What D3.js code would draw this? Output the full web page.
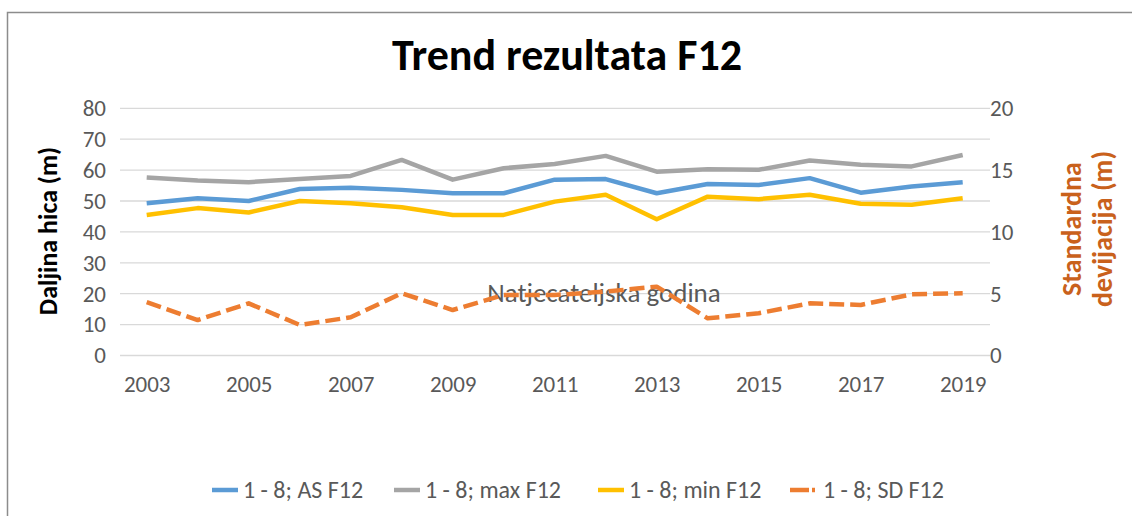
<!DOCTYPE html>
<html>
<head>
<meta charset="utf-8">
<script src="https://cdn.jsdelivr.net/npm/d3@7"></script>
<style>
  html, body { margin: 0; padding: 0; background: #fff; }
  svg { display: block; font-family: Calibri, Carlito, Lato, sans-serif; }
</style>
</head>
<body>
<svg id="chart" width="1132" height="516"></svg>
<script>
// Competition years
const years = [2003, 2004, 2005, 2006, 2007, 2008, 2009, 2010, 2011,
               2012, 2013, 2014, 2015, 2016, 2017, 2018, 2019];

// Throw distance (m), places 1-8
const asF12  = [49.3, 50.9, 50.0, 53.9, 54.3, 53.6, 52.5, 52.5, 56.9,
                57.1, 52.5, 55.5, 55.2, 57.4, 52.7, 54.7, 56.1];
const maxF12 = [57.6, 56.6, 56.1, 57.1, 58.1, 63.3, 56.9, 60.6, 62.0,
                64.6, 59.5, 60.3, 60.1, 63.1, 61.7, 61.2, 64.9];
const minF12 = [45.5, 47.7, 46.3, 50.0, 49.3, 48.0, 45.5, 45.5, 49.8,
                52.0, 44.1, 51.4, 50.6, 52.0, 49.1, 48.8, 50.9];
// Standard deviation (m), right axis
const sdF12  = [4.31, 2.87, 4.22, 2.47, 3.09, 5.04, 3.68, 4.90, 4.90,
                5.17, 5.57, 3.01, 3.42, 4.22, 4.09, 4.95, 5.04];

const leftTicks  = [0, 10, 20, 30, 40, 50, 60, 70, 80];
const rightTicks = [0, 5, 10, 15, 20];
const xTickYears = [2003, 2005, 2007, 2009, 2011, 2013, 2015, 2017, 2019];

const seriesNames = ["1 - 8; AS F12", "1 - 8; max F12", "1 - 8; min F12", "1 - 8; SD F12"];

const C = { blue: "#5B9BD5", grey: "#A5A5A5", yellow: "#FFC000", orange: "#ED7D31",
            text: "#595959", grid: "#D9D9D9", axisTitle2: "#C9611C" };

const svg = d3.select("#chart");

// Outer frame (top and left edges)
svg.append("path")
  .attr("d", "M7.5,516 V12.5 H1132")
  .attr("fill", "none").attr("stroke", "#8C8C8C").attr("stroke-width", 1.5);

const plot = { left: 120, right: 990, top: 108.3, bottom: 355.5 };
const x = d3.scaleLinear().domain([2003, 2019]).range([146.7, 962.7]);
const yL = d3.scaleLinear().domain([0, 80]).range([plot.bottom, plot.top]);
const yR = d3.scaleLinear().domain([0, 20]).range([plot.bottom, plot.top]);

// Horizontal gridlines
svg.append("g").selectAll("line").data(leftTicks).join("line")
  .attr("x1", plot.left).attr("x2", plot.right)
  .attr("y1", d => yL(d)).attr("y2", d => yL(d))
  .attr("stroke", C.grid).attr("stroke-width", 1.3);

// Axis helper: strip the domain line and let labels inherit the page font
function styleAxis(g) {
  g.attr("font-family", null).attr("font-size", null);
  g.select(".domain").remove();
  g.selectAll("text").attr("fill", C.text).style("font-size", "23px");
}

// Left axis
svg.append("g").attr("transform", `translate(${plot.left - 14},0)`)
  .call(d3.axisLeft(yL).tickValues(leftTicks).tickSize(0).tickPadding(0))
  .call(styleAxis);

// Right axis
svg.append("g").attr("transform", `translate(${plot.right},0)`)
  .call(d3.axisRight(yR).tickValues(rightTicks).tickSize(0).tickPadding(0))
  .call(styleAxis);

// Bottom axis
svg.append("g").attr("transform", `translate(0,${plot.bottom + 20})`)
  .call(d3.axisBottom(x).tickValues(xTickYears).tickFormat(d3.format("d")).tickSize(0).tickPadding(0))
  .call(styleAxis)
  .selectAll("text").attr("dy", "0.71em");

// Axis title placed inside plot
svg.append("text").attr("x", 604).attr("y", 302)
  .attr("text-anchor", "middle").attr("fill", C.text).style("font-size", "27px")
  .text("Natjecateljska godina");

const lineL = d3.line().x((d, i) => x(years[i])).y(d => yL(d));
const lineR = d3.line().x((d, i) => x(years[i])).y(d => yR(d));

const series = [
  { data: asF12,  color: C.blue,   gen: lineL, dash: null },
  { data: maxF12, color: C.grey,   gen: lineL, dash: null },
  { data: minF12, color: C.yellow, gen: lineL, dash: null },
  { data: sdF12,  color: C.orange, gen: lineR, dash: "15,6" }
];

svg.append("g").selectAll("path").data(series).join("path")
  .attr("d", s => s.gen(s.data))
  .attr("fill", "none")
  .attr("stroke", s => s.color)
  .attr("stroke-width", 4.5)
  .attr("stroke-linejoin", "round")
  .attr("stroke-dasharray", s => s.dash);

// Title
svg.append("text").attr("x", 567).attr("y", 70)
  .attr("text-anchor", "middle").attr("fill", "#000")
  .style("font-size", "44px").style("font-weight", "bold")
  .text("Trend rezultata F12");

// Left axis title
svg.append("text")
  .attr("transform", "translate(57,231) rotate(-90)")
  .attr("text-anchor", "middle").attr("fill", "#000")
  .style("font-size", "26px").style("font-weight", "bold")
  .text("Daljina hica (m)");

// Right axis title (two lines)
const rt = svg.append("text")
  .attr("transform", "translate(1081,229) rotate(-90)")
  .attr("text-anchor", "middle").attr("fill", C.axisTitle2)
  .style("font-size", "28px").style("font-weight", "bold");
rt.append("tspan").attr("x", 0).attr("y", 0).text("Standardna");
rt.append("tspan").attr("x", 0).attr("y", 31).text("devijacija (m)");

// Legend
const legendX = [212, 394, 598, 790];
const lg = svg.append("g").selectAll("g").data(series).join("g")
  .attr("transform", (d, i) => `translate(${legendX[i]},490)`);
lg.append("line")
  .attr("x1", 0).attr("x2", d => d.dash ? 19 : 26).attr("y1", 0).attr("y2", 0)
  .attr("stroke", d => d.color).attr("stroke-width", 4.5);
lg.filter(d => d.dash).append("line")
  .attr("x1", 22).attr("x2", 25).attr("y1", 0).attr("y2", 0)
  .attr("stroke", d => d.color).attr("stroke-width", 4.5);
lg.append("text")
  .attr("x", (d, i) => i === 3 ? 33 : 31).attr("y", 0).attr("dy", "0.35em")
  .attr("fill", C.text).style("font-size", "24px")
  .text((d, i) => seriesNames[i]);
</script>
</body>
</html>
